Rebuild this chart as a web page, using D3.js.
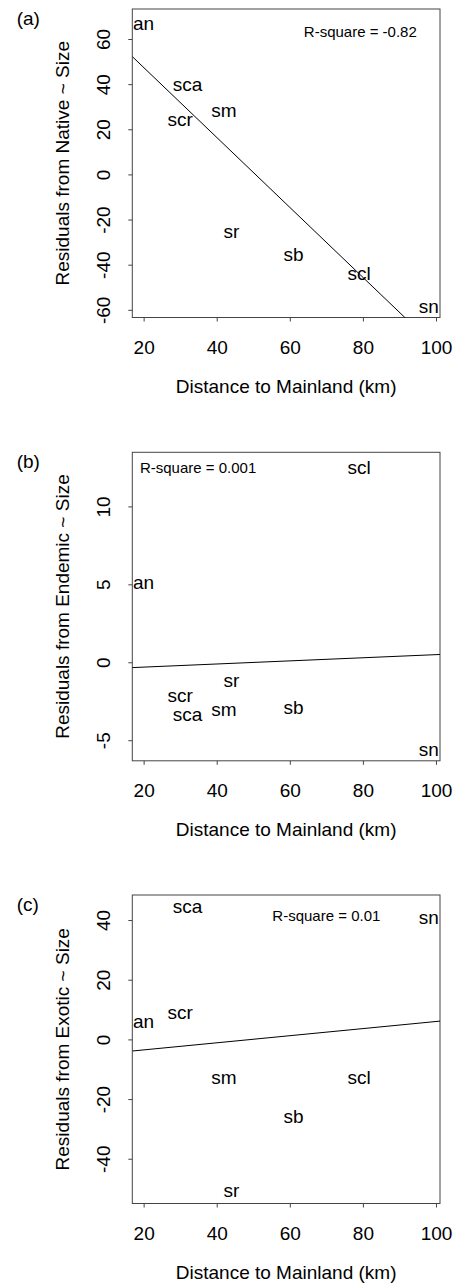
<!DOCTYPE html>
<html>
<head>
<meta charset="utf-8">
<script src="https://cdn.jsdelivr.net/npm/d3@7"></script>
<style>
  html, body { margin: 0; padding: 0; background: #fff; }
  svg { display: block; }
  text { font-family: "Liberation Sans", Arial, Helvetica, sans-serif; fill: #000; }
</style>
</head>
<body>
<svg id="chart" width="456" height="1283"></svg>
<script>
// Island codes and their distance to the mainland (km)
const islands = ["an", "sca", "scr", "sm", "sr", "sb", "scl", "sn"];
const distance = [20, 32, 30, 42, 44, 61, 79, 98];

// Residuals of species richness against island size
const nativeResid  = [66.2, 39.2, 23.8, 27.8, -26.0, -35.2, -43.8, -59.3];
const endemicResid = [5.0, -3.43, -2.2, -3.1, -1.24, -2.85, 12.54, -5.68];
const exoticResid  = [5.4, 43.9, 8.5, -13.3, -51.3, -25.6, -12.5, 40.3];

// Fitted regression lines (intercept, slope) for each panel
const lineIntercept = [78.4, -0.51, -5.9];
const lineSlope = [-1.55, 0.01, 0.119];

// Panel texts
const panelTags = ["(a)", "(b)", "(c)"];
const yTitles = ["Residuals from Native ~ Size", "Residuals from Endemic ~ Size", "Residuals from Exotic ~ Size"];
const rsqText = ["R-square = -0.82", "R-square = 0.001", "R-square = 0.01"];
const rsqPos = [[79.3, 63.4], [34.9, 12.48], [70, 41.6]];
const xTitle = "Distance to Mainland (km)";

// Axis ticks and limits
const xTicks = [20, 40, 60, 80, 100];
const xLimits = [16.9, 101.1];
const yTicks = [[-60, -40, -20, 0, 20, 40, 60], [-5, 0, 5, 10], [-40, -20, 0, 20, 40]];
const yLimits = [[-63.4, 73.3], [-6.32, 13.47], [-55.0, 48.4]];

const residSets = [nativeResid, endemicResid, exoticResid];

// Layout
const FONT = 19;
const plotLeft = 132.3, plotRight = 440;
const plotTops = [9, 452.3, 895];
const plotH = 308.5;
const boxColor = "#444";

const svg = d3.select("#chart");
const defs = svg.append("defs");

const x = d3.scaleLinear().domain(xLimits).range([plotLeft, plotRight]);

// plain hyphen for negative tick values
const fmt = d => String(d);

// Ascender letters shift the ink centre of a label upward
function inkOffset(s) {
  return /[bdfhklt]/.test(s) ? 0.36 * FONT : 0.26 * FONT;
}

panelTags.forEach((tag, i) => {
  const top = plotTops[i], bottom = top + plotH;
  const y = d3.scaleLinear().domain(yLimits[i]).range([bottom, top]);
  const g = svg.append("g");

  // clip for the regression line
  const clipId = "clip" + i;
  defs.append("clipPath").attr("id", clipId)
    .append("rect").attr("x", plotLeft).attr("y", top)
    .attr("width", plotRight - plotLeft).attr("height", plotH);

  // x axis
  const xAxis = g.append("g").attr("transform", `translate(0,${bottom})`)
    .call(d3.axisBottom(x).tickValues(xTicks).tickSize(4).tickSizeOuter(0).tickFormat(fmt));
  xAxis.select(".domain").remove();
  xAxis.selectAll(".tick line").attr("stroke", boxColor);
  xAxis.selectAll(".tick text").attr("y", 36.5).attr("dy", null)
    .style("font-size", FONT + "px").style("font-family", "Liberation Sans, Arial, sans-serif");

  // y axis with rotated labels
  const yAxis = g.append("g").attr("transform", `translate(${plotLeft},0)`)
    .call(d3.axisLeft(y).tickValues(yTicks[i]).tickSize(4).tickSizeOuter(0).tickFormat(fmt));
  yAxis.select(".domain").remove();
  yAxis.selectAll(".tick line").attr("stroke", boxColor);
  yAxis.selectAll(".tick text")
    .attr("x", null).attr("dy", null)
    .attr("text-anchor", "middle")
    .attr("transform", `translate(${110 - plotLeft},0) rotate(-90)`)
    .style("font-size", FONT + "px").style("font-family", "Liberation Sans, Arial, sans-serif");

  // plot box
  g.append("rect").attr("x", plotLeft).attr("y", top)
    .attr("width", plotRight - plotLeft).attr("height", plotH)
    .attr("fill", "none").attr("stroke", boxColor).attr("stroke-width", 1);

  // regression line
  g.append("line")
    .attr("clip-path", `url(#${clipId})`)
    .attr("x1", x(xLimits[0])).attr("y1", y(lineIntercept[i] + lineSlope[i] * xLimits[0]))
    .attr("x2", x(xLimits[1])).attr("y2", y(lineIntercept[i] + lineSlope[i] * xLimits[1]))
    .attr("stroke", "#000").attr("stroke-width", 1);

  // island labels drawn at their points
  const resid = residSets[i];
  g.selectAll("text.island").data(islands).join("text")
    .attr("class", "island")
    .attr("x", (d, k) => x(distance[k]))
    .attr("y", (d, k) => y(resid[k]) + inkOffset(d))
    .attr("text-anchor", "middle")
    .style("font-size", FONT + "px")
    .text(d => d);

  // R-square annotation
  g.append("text")
    .attr("x", x(rsqPos[i][0]))
    .attr("y", y(rsqPos[i][1]) + 0.36 * 15)
    .attr("text-anchor", "middle")
    .style("font-size", "15px")
    .text(rsqText[i]);

  // axis titles
  g.append("text")
    .attr("transform", `translate(69,${(top + bottom) / 2}) rotate(-90)`)
    .attr("text-anchor", "middle")
    .style("font-size", FONT + "px")
    .text(yTitles[i]);

  g.append("text")
    .attr("x", (plotLeft + plotRight) / 2)
    .attr("y", bottom + 75)
    .attr("text-anchor", "middle")
    .style("font-size", FONT + "px")
    .text(xTitle);

  // panel tag
  g.append("text")
    .attr("x", 16.7).attr("y", top + 16)
    .style("font-size", FONT + "px")
    .text(tag);
});
</script>
</body>
</html>
